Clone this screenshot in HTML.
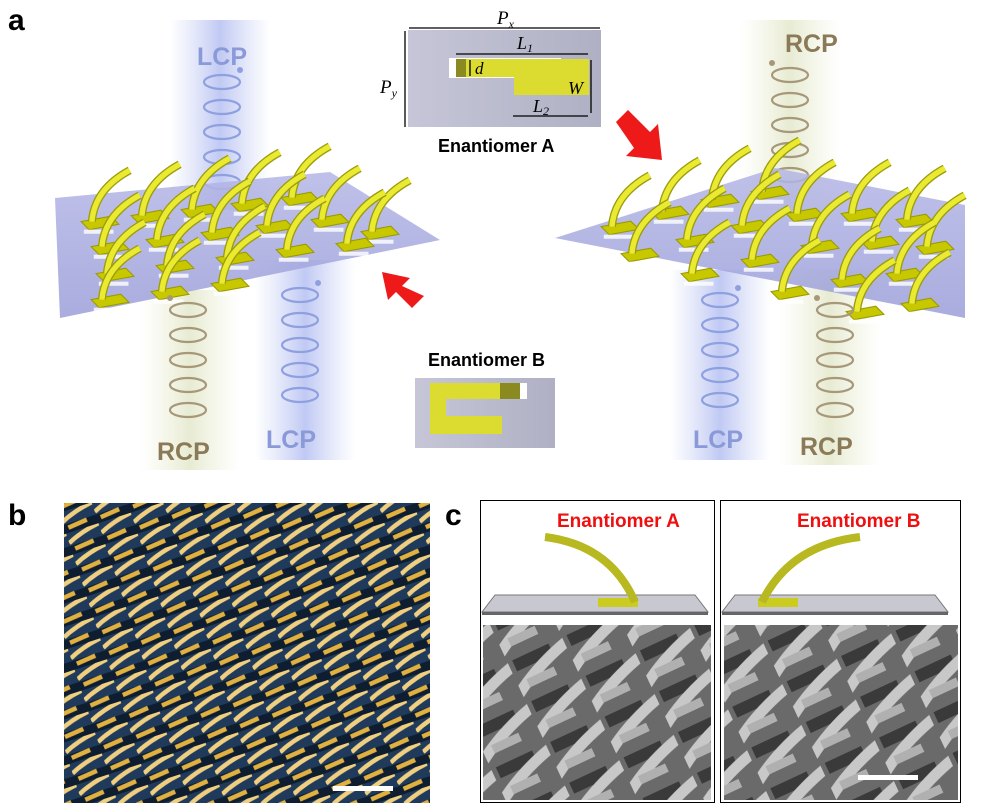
<!DOCTYPE html>
<html><head><meta charset="utf-8"><style>
html,body{margin:0;padding:0;background:#fff;}
svg{display:block;font-family:"Liberation Sans",sans-serif;}
</style></head><body>
<svg width="1000" height="806" viewBox="0 0 1000 806" xmlns="http://www.w3.org/2000/svg">
<defs>
<linearGradient id="gb" x1="0" x2="1"><stop offset="0" stop-color="#c8d0f4" stop-opacity="0"/><stop offset="0.5" stop-color="#b9c3f2" stop-opacity="0.9"/><stop offset="1" stop-color="#c8d0f4" stop-opacity="0"/></linearGradient>
<linearGradient id="gy" x1="0" x2="1"><stop offset="0" stop-color="#eef0d8" stop-opacity="0"/><stop offset="0.5" stop-color="#e6ead0" stop-opacity="0.95"/><stop offset="1" stop-color="#eef0d8" stop-opacity="0"/></linearGradient>
<linearGradient id="plate" x1="0" y1="0" x2="0" y2="1"><stop offset="0" stop-color="#b4b6e6"/><stop offset="1" stop-color="#9a9ed8"/></linearGradient>
<linearGradient id="inset" x1="0" x2="1"><stop offset="0" stop-color="#c6c6d8"/><stop offset="1" stop-color="#b0b0c4"/></linearGradient>
<symbol id="el" overflow="visible">
<g transform="scale(1.35)">
<path d="M-14,16 L8,12 L14,18 L-8,22 Z" fill="#c8c800" stroke="#9a9a00" stroke-width="0.8"/>
<path d="M-6,16 Q-4,-8 22,-22" fill="none" stroke="#9c9c10" stroke-width="6"/>
<path d="M-6,16 Q-4,-8 22,-22" fill="none" stroke="#eaea30" stroke-width="4"/>
<rect x="-12" y="22" width="22" height="3" fill="#fff" opacity="0.8"/>
</g>
</symbol>
<symbol id="hb" overflow="visible">
<g fill="none" stroke="#8ea0e0" stroke-width="2.2">
<ellipse cx="0" cy="0" rx="18" ry="7"/><ellipse cx="0" cy="25" rx="18" ry="7"/><ellipse cx="0" cy="50" rx="18" ry="7"/><ellipse cx="0" cy="75" rx="18" ry="7"/><ellipse cx="0" cy="100" rx="18" ry="7"/>
</g><circle cx="18" cy="-12" r="3" fill="#8ea0e0"/></symbol>
<symbol id="hy" overflow="visible">
<g fill="none" stroke="#a8987a" stroke-width="2.2">
<ellipse cx="0" cy="0" rx="18" ry="7"/><ellipse cx="0" cy="25" rx="18" ry="7"/><ellipse cx="0" cy="50" rx="18" ry="7"/><ellipse cx="0" cy="75" rx="18" ry="7"/><ellipse cx="0" cy="100" rx="18" ry="7"/>
</g><circle cx="-18" cy="-12" r="3" fill="#a8987a"/></symbol>
<pattern id="sem" width="34" height="22" patternUnits="userSpaceOnUse" patternTransform="rotate(-18)">
<rect width="34" height="22" fill="#1f3a5a"/>
<rect x="0" y="13" width="34" height="9" fill="#0e1e30"/>
<path d="M0,10 Q14,3 34,0" stroke="#f0d080" stroke-width="4.5" fill="none"/>
<path d="M4,17 L24,15" stroke="#e0b040" stroke-width="4.5"/>
</pattern>
<pattern id="sem2" width="60" height="45" patternUnits="userSpaceOnUse" patternTransform="rotate(-25)">
<rect width="60" height="45" fill="#6a6a6a"/>
<rect x="5" y="5" width="40" height="12" fill="#3a3a3a"/>
<path d="M-5,40 Q25,20 65,10" stroke="#c8c8c8" stroke-width="11" fill="none"/>
<rect x="10" y="28" width="30" height="9" fill="#b0b0b0"/>
</pattern>
</defs>

<rect x="170" y="20" width="100" height="190" fill="url(#gb)"/>
<rect x="255" y="260" width="100" height="200" fill="url(#gb)"/>
<rect x="140" y="290" width="100" height="180" fill="url(#gy)"/>
<rect x="740" y="20" width="100" height="190" fill="url(#gy)"/>
<rect x="670" y="270" width="100" height="190" fill="url(#gb)"/>
<rect x="780" y="270" width="100" height="195" fill="url(#gy)"/>

<text x="8" y="30" font-size="30" font-weight="bold">a</text>
<text x="197" y="65" font-size="25" font-weight="bold" fill="#8a9ad8">LCP</text>
<text x="785" y="52" font-size="25" font-weight="bold" fill="#8a7a58">RCP</text>

<use href="#hb" x="222" y="82"/>
<use href="#hy" x="790" y="75"/>

<polygon points="55,198 330,172 440,240 60,318" fill="url(#plate)" opacity="0.85"/>
<g>
<use href="#el" x="100" y="200"/><use href="#el" x="150" y="194"/><use href="#el" x="200" y="188"/><use href="#el" x="250" y="182"/><use href="#el" x="300" y="176"/>
<use href="#el" x="110" y="225"/><use href="#el" x="165" y="218"/><use href="#el" x="220" y="211"/><use href="#el" x="275" y="204"/><use href="#el" x="330" y="198"/><use href="#el" x="380" y="210"/>
<use href="#el" x="115" y="252"/><use href="#el" x="175" y="244"/><use href="#el" x="235" y="236"/><use href="#el" x="295" y="228"/><use href="#el" x="355" y="222"/>
<use href="#el" x="110" y="278"/><use href="#el" x="170" y="270"/><use href="#el" x="230" y="262"/>
</g>
<polygon points="555,238 775,168 965,205 965,318" fill="url(#plate)" opacity="0.85"/>
<g>
<use href="#el" x="620" y="205"/><use href="#el" x="670" y="190"/><use href="#el" x="720" y="178"/><use href="#el" x="770" y="170"/>
<use href="#el" x="640" y="232"/><use href="#el" x="695" y="218"/><use href="#el" x="750" y="204"/><use href="#el" x="805" y="192"/><use href="#el" x="860" y="192"/><use href="#el" x="915" y="198"/>
<use href="#el" x="700" y="252"/><use href="#el" x="760" y="238"/><use href="#el" x="820" y="224"/><use href="#el" x="880" y="220"/><use href="#el" x="935" y="225"/>
<use href="#el" x="790" y="270"/><use href="#el" x="850" y="258"/><use href="#el" x="905" y="252"/><use href="#el" x="920" y="282"/><use href="#el" x="865" y="290"/>
</g>

<use href="#hy" x="188" y="310"/>
<use href="#hb" x="300" y="295"/>
<use href="#hb" x="720" y="300"/>
<use href="#hy" x="835" y="310"/>

<text x="157" y="460" font-size="25" font-weight="bold" fill="#8a7a58">RCP</text>
<text x="266" y="448" font-size="25" font-weight="bold" fill="#8a9ad8">LCP</text>
<text x="693" y="448" font-size="25" font-weight="bold" fill="#8a9ad8">LCP</text>
<text x="800" y="455" font-size="25" font-weight="bold" fill="#8a7a58">RCP</text>

<rect x="408" y="30" width="193" height="97" fill="url(#inset)"/>
<rect x="449" y="58" width="112" height="20" fill="#fff"/>
<rect x="456" y="59" width="133" height="18" fill="#dcdc30"/>
<rect x="456" y="59" width="10" height="18" fill="#8a8a20"/>
<rect x="514" y="77" width="75" height="18" fill="#dcdc30"/>
<g stroke="#000" stroke-width="1.3" fill="none">
<line x1="409" y1="28" x2="600" y2="28"/><line x1="405" y1="31" x2="405" y2="127"/>
<line x1="456" y1="54" x2="588" y2="54"/><line x1="513" y1="116" x2="588" y2="116"/>
<line x1="591" y1="60" x2="591" y2="113"/><line x1="470" y1="60" x2="470" y2="76"/>
</g>
<text x="497" y="24" font-size="19" font-style="italic" font-family="Liberation Serif">P<tspan font-size="12" dy="4">x</tspan></text>
<text x="380" y="93" font-size="19" font-style="italic" font-family="Liberation Serif">P<tspan font-size="12" dy="4">y</tspan></text>
<text x="517" y="49" font-size="18" font-style="italic" font-family="Liberation Serif">L<tspan font-size="12" dy="3">1</tspan></text>
<text x="475" y="74" font-size="17" font-style="italic" font-family="Liberation Serif">d</text>
<text x="568" y="94" font-size="18" font-style="italic" font-family="Liberation Serif">W</text>
<text x="533" y="112" font-size="18" font-style="italic" font-family="Liberation Serif">L<tspan font-size="12" dy="3">2</tspan></text>
<text x="438" y="152" font-size="18" font-weight="bold">Enantiomer A</text>

<text x="428" y="366" font-size="18" font-weight="bold">Enantiomer B</text>
<rect x="415" y="378" width="140" height="70" fill="url(#inset)"/>
<rect x="447" y="383" width="80" height="16" fill="#fff"/>
<rect x="430" y="383" width="90" height="16" fill="#dcdc30"/>
<rect x="500" y="383" width="20" height="16" fill="#8a8a20"/>
<rect x="430" y="399" width="16" height="35" fill="#dcdc30"/>
<rect x="430" y="416" width="72" height="18" fill="#dcdc30"/>

<g fill="#ee1a1a">
<polygon points="616,122 628,110 650,132 658,124 662,160 626,156 634,148"/>
<polygon points="424,296 412,308 396,292 388,300 382,272 410,278 402,286"/>
</g>

<text x="8" y="525" font-size="30" font-weight="bold">b</text>
<rect x="64" y="503" width="366" height="300" fill="url(#sem)"/>
<rect x="333" y="786" width="60" height="5" fill="#fff"/>

<text x="445" y="525" font-size="30" font-weight="bold">c</text>
<rect x="480.5" y="500.5" width="234" height="302" fill="#fff" stroke="#000"/>
<rect x="720.5" y="500.5" width="240" height="302" fill="#fff" stroke="#000"/>
<text x="557" y="527" font-size="19" font-weight="bold" fill="#ee1010">Enantiomer A</text>
<text x="797" y="527" font-size="19" font-weight="bold" fill="#ee1010">Enantiomer B</text>
<polygon points="495,595 695,595 708,612 482,612" fill="#c8c8d0" stroke="#777"/>
<rect x="482" y="612" width="226" height="3" fill="#666"/>
<rect x="598" y="598" width="40" height="9" fill="#cccc20"/>
<path d="M635,602 Q610,545 545,537" fill="none" stroke="#b8b820" stroke-width="8"/>
<polygon points="735,595 935,595 948,612 722,612" fill="#c8c8d0" stroke="#777"/>
<rect x="722" y="612" width="226" height="3" fill="#666"/>
<rect x="758" y="598" width="40" height="9" fill="#cccc20"/>
<path d="M762,602 Q790,545 860,537" fill="none" stroke="#b8b820" stroke-width="8"/>
<rect x="483" y="625" width="228" height="175" fill="url(#sem2)"/>
<rect x="724" y="625" width="234" height="175" fill="url(#sem2)"/>
<rect x="858" y="775" width="60" height="5" fill="#fff"/>
</svg>
</body></html>
